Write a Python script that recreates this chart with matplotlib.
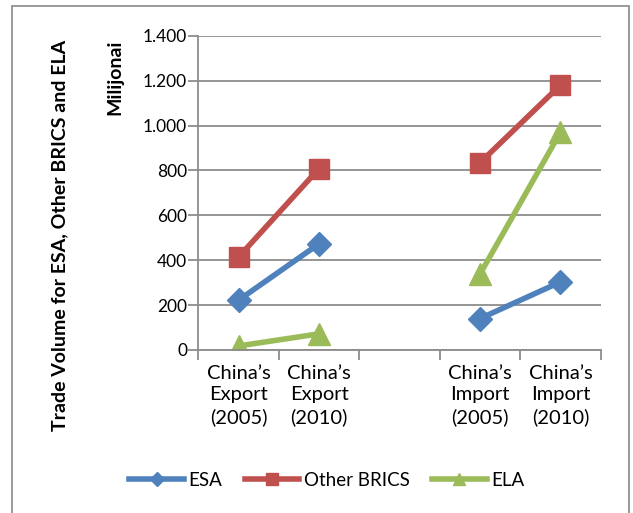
import numpy as np
import matplotlib
matplotlib.use("Agg")
import matplotlib.pyplot as plt
from matplotlib.patches import Rectangle
from matplotlib.ticker import FuncFormatter, FixedLocator

plt.rcParams['font.family'] = ['Lato', 'DejaVu Sans']

categories = ["China\u2019s\nExport\n(2005)", "China\u2019s\nExport\n(2010)", "",
              "China\u2019s\nImport\n(2005)", "China\u2019s\nImport\n(2010)"]
esa = [222, 473, np.nan, 140, 303]
other_brics = [414, 808, np.nan, 834, 1180]
ela = [18, 72, np.nan, 338, 970]
y_ticks = [0, 200, 400, 600, 800, 1000, 1200, 1400]

fig = plt.figure(figsize=(6.33, 5.13), dpi=100)
ax = fig.add_axes([198.3 / 633, 1 - 350 / 513, 402.4 / 633, 314.3 / 513])

x = np.arange(len(categories))
grid_c = '#8c8c8c'

ax.plot(x, esa, color='#4F81BD', lw=4, marker='D', ms=12, label='ESA')
ax.plot(x, other_brics, color='#C0504D', lw=4, marker='s', ms=14.5, label='Other BRICS')
ax.plot(x, ela, color='#9BBB59', lw=4, marker='^', ms=15.5, label='ELA')

ax.set_xlim(-0.5, len(categories) - 0.5)
ax.set_ylim(0, 1400)
ax.set_yticks(y_ticks)
ax.yaxis.set_major_formatter(FuncFormatter(lambda v, p: f"{int(v):,}".replace(',', '.')))
ax.yaxis.grid(True, color=grid_c, lw=1.3)
ax.set_axisbelow(True)

# category boundaries as ticks, category names centred between them
ax.xaxis.set_major_locator(FixedLocator(np.arange(len(categories) + 1) - 0.5))
ax.xaxis.set_minor_locator(FixedLocator(x))
ax.set_xticklabels([], minor=False)
ax.set_xticklabels(categories, minor=True, fontsize=14.5, linespacing=1.3)
ax.tick_params(axis='x', which='major', direction='out', length=7, width=1.3, color=grid_c)
ax.tick_params(axis='x', which='minor', length=0, pad=11)
ax.tick_params(axis='y', direction='out', length=7, width=1.3, color=grid_c, labelsize=12.5, pad=1)

for side in ['top', 'right']:
    ax.spines[side].set_visible(False)
ax.spines['left'].set_color(grid_c)
ax.spines['left'].set_linewidth(1.3)
ax.spines['bottom'].set_color(grid_c)
ax.spines['bottom'].set_linewidth(1.3)

ax.set_ylabel('Milijonai', fontsize=14, fontweight='bold', loc='top')
ax.yaxis.set_label_coords((123 - 198.3) / 402.4, 0.986)
fig.text(60 / 633, 1 - 235 / 513, 'Trade Volume for ESA, Other BRICS and ELA',
         rotation=90, ha='center', va='center', fontsize=14, fontweight='bold')

leg = fig.legend(loc='center', bbox_to_anchor=(327 / 633, 1 - 480 / 513), ncol=3,
                 frameon=False, fontsize=13.5, handlelength=2.9, columnspacing=1.2,
                 handletextpad=0.25, markerscale=0.6)

fig.patches.append(Rectangle((12 / 633, -0.05), 617 / 633, 1.05 - 6 / 513,
                             transform=fig.transFigure, fill=False,
                             edgecolor='#898989', lw=1.2))

fig.savefig('out.png', dpi=100)
